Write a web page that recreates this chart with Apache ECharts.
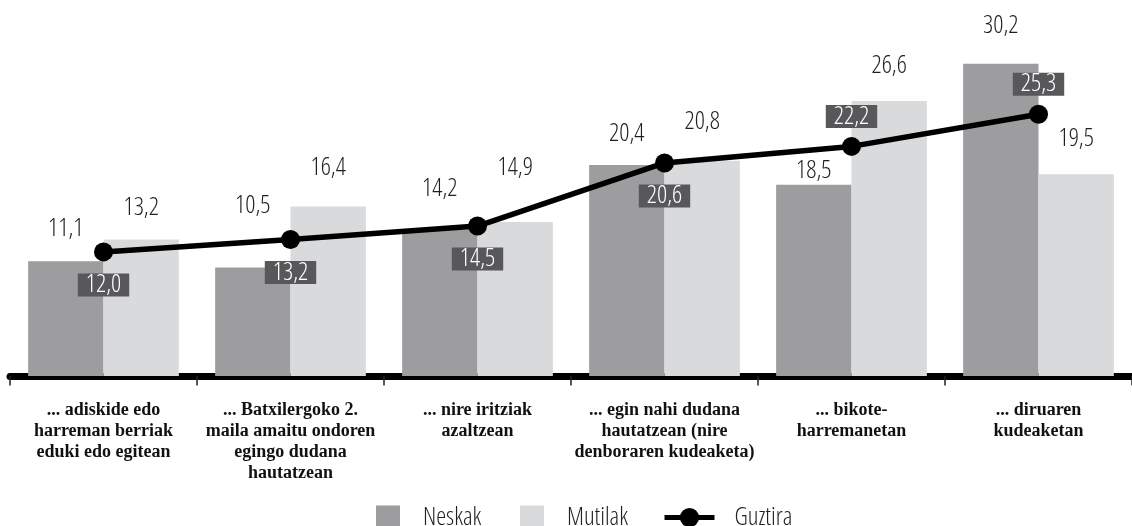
<!DOCTYPE html>
<html>
<head>
<meta charset="utf-8">
<script src="https://cdn.jsdelivr.net/npm/echarts@6/dist/echarts.min.js"></script>
<style>
html,body{margin:0;padding:0;background:#fff;}
#chart{width:1132px;height:526px;}
</style>
</head>
<body>
<div id="chart"></div>
<script>
// ---- data ----
var categories = [
  "... adiskide edo\nharreman berriak\neduki edo egitean",
  "... Batxilergoko 2.\nmaila amaitu ondoren\negingo dudana\nhautatzean",
  "... nire iritziak\nazaltzean",
  "... egin nahi dudana\nhautatzean (nire\ndenboraren kudeaketa)",
  "... bikote-\nharremanetan",
  "... diruaren\nkudeaketan"
];
var neskak  = [11.1, 10.5, 14.2, 20.4, 18.5, 30.2];
var mutilak = [13.2, 16.4, 14.9, 20.8, 26.6, 19.5];
var guztira = [12.0, 13.2, 14.5, 20.6, 22.2, 25.3];
var seriesNames = ["Neskak", "Mutilak", "Guztira"];

// ---- layout (label placement only) ----
var neskakLabelDist  = [20, 49, 28, 19, 1, 25];
var mutilakLabelDist = [19, 26, 42, 26, 23, 23];
var guztiraLabelPos  = ["bottom", "bottom", "bottom", "bottom", "top", "top"];
var guztiraLabelDist = [12, 12, 12, 12, 9, 9];

var numFont = '"Open Sans", "Roboto", sans-serif';
var numWeight = '300 condensed';
var numSize = 25;
var fmt = function (v) { return v.toFixed(1).replace('.', ','); };

var chart = echarts.init(document.getElementById('chart'), null, {renderer: 'canvas'});

function legendCfg(name, left, itemWidth, pad, extra) {
  var cfg = {
    data: [name],
    left: left,
    top: 505,
    padding: 0,
    itemWidth: itemWidth,
    itemHeight: 24,
    textStyle: {fontFamily: numFont, fontWeight: numWeight, fontSize: numSize, color: '#231f20', padding: [0, 0, 0, pad]},
    selectedMode: false
  };
  for (var k in extra) cfg[k] = extra[k];
  return cfg;
}

var option = {
  backgroundColor: '#ffffff',
  animation: false,
  grid: {left: 10, width: 1131, top: 14, bottom: 150, containLabel: false},
  legend: [
    legendCfg(seriesNames[0], 376, 24, 18, {icon: 'rect'}),
    legendCfg(seriesNames[1], 520, 24, 18, {icon: 'rect'}),
    legendCfg(seriesNames[2], 662, 50, 15, {lineStyle: {width: 5}, itemStyle: {color: '#000'}})
  ],
  xAxis: {
    type: 'category',
    data: categories,
    offset: 3.5,
    axisLine: {show: true, lineStyle: {color: '#000', width: 7}},
    axisTick: {show: true, interval: 0, length: 9.5, lineStyle: {color: '#222', width: 1.5}},
    axisLabel: {
      interval: 0,
      margin: 20,
      fontFamily: '"Liberation Serif", "Times New Roman", serif',
      fontWeight: 'bold',
      fontSize: 18,
      lineHeight: 21,
      color: '#111',
      align: 'center'
    },
    splitLine: {show: false}
  },
  yAxis: {
    type: 'value',
    min: 0,
    max: 35,
    interval: 5,
    show: false,
    splitLine: {show: false}
  },
  series: [
    {
      name: seriesNames[0],
      type: 'bar',
      barGap: 0,
      barCategoryGap: '19.4%',
      itemStyle: {color: '#9d9d9f'},
      label: {show: true, position: 'top', fontFamily: numFont, fontWeight: numWeight, fontSize: numSize, color: '#231f20',
        formatter: function (p) { return fmt(p.value); }},
      data: neskak.map(function (v, i) { return {value: v, label: {distance: neskakLabelDist[i]}}; }),
      z: 2
    },
    {
      name: seriesNames[1],
      type: 'bar',
      barGap: 0,
      barCategoryGap: '19.4%',
      itemStyle: {color: '#d9dadc'},
      label: {show: true, position: 'top', fontFamily: numFont, fontWeight: numWeight, fontSize: numSize, color: '#231f20',
        formatter: function (p) { return fmt(p.value); }},
      data: mutilak.map(function (v, i) { return {value: v, label: {distance: mutilakLabelDist[i]}}; }),
      z: 2
    },
    {
      name: seriesNames[2],
      type: 'line',
      symbol: 'circle',
      symbolSize: 19,
      itemStyle: {color: '#000'},
      lineStyle: {color: '#000', width: 5.5},
      label: {show: true, fontFamily: numFont, fontWeight: numWeight, fontSize: numSize, color: '#fff',
        backgroundColor: '#58585a', padding: [0, 8, 0, 8], lineHeight: 23,
        formatter: function (p) { return fmt(p.value); }},
      data: guztira.map(function (v, i) {
        return {value: v, label: {position: guztiraLabelPos[i], distance: guztiraLabelDist[i]}};
      }),
      z: 5
    }
  ]
};
chart.setOption(option);
</script>
</body>
</html>
